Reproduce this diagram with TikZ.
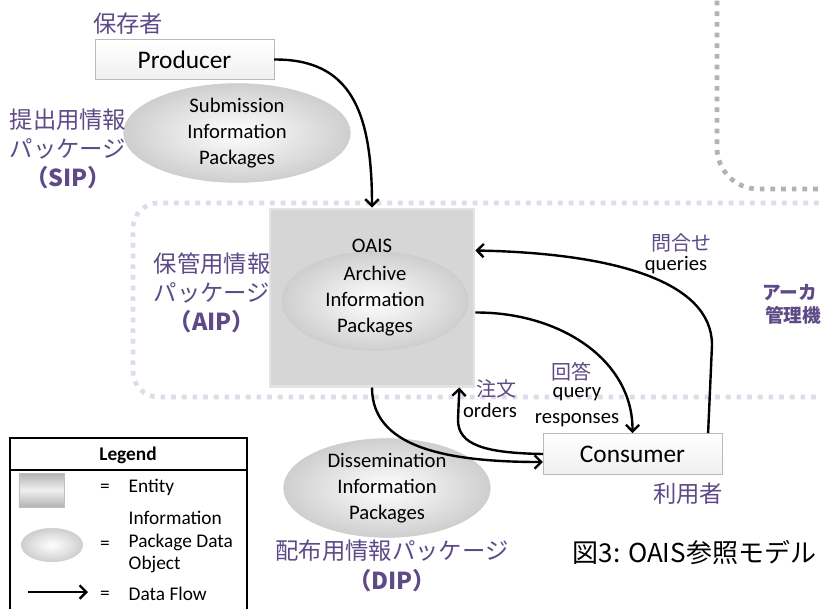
\documentclass[tikz,border=0pt]{standalone}
\usepackage{fontspec}
\setmainfont{Carlito}
\newfontfamily\jpfont{Noto Sans CJK JP}
\usetikzlibrary{arrows.meta, shapes.geometric, calc}
\definecolor{oaispurple}{HTML}{5E4A86}
\definecolor{oaislavender}{HTML}{DFDBEA}
\definecolor{oaisgray}{HTML}{B2B2B2}

\begin{document}
\begin{tikzpicture}[
    x=0.75pt, y=-0.75pt,
    entity/.style={draw=gray!55, top color=white, bottom color=gray!12, minimum width=#1, minimum height=30pt, inner sep=0pt, font=\fontsize{19}{22}\selectfont},
    package/.style={ellipse, draw=gray!40, inner color=white, outer color=gray!38, align=center, inner sep=0pt, font=\fontsize{15.5}{19.5}\selectfont},
    jplabel/.style={text=oaispurple, align=center, font=\jpfont\fontsize{17.5}{22}\selectfont},
    jpsmall/.style={text=oaispurple, font=\jpfont\fontsize{15}{18}\selectfont},
    flowlabel/.style={align=center, font=\fontsize{15.5}{19}\selectfont},
    legendtext/.style={align=left, font=\fontsize{14.5}{17}\selectfont},
    flow/.style={-{Straight Barb[length=5pt,width=10pt]}, line width=1.8pt},
    dotrule/.style={line width=3.5pt, dash pattern=on 3.5pt off 4.5pt}
  ]
  \fill[white] (0,0) rectangle (821,608);
  \useasboundingbox (0,0) rectangle (821,608);
  \clip (0,0) rectangle (821,608);

  % archive boundaries
  \draw[dotrule, oaisgray, rounded corners=31pt] (717,-10) -- (717,189) -- (840,189);
  \draw[dotrule, oaislavender, rounded corners=19pt] (840,203) -- (133,203) -- (133,397) -- (840,397);

  % producer side
  \node[entity=134pt] (producer) at (184.5,59.5) {Producer};
  \node[jplabel] (producerjp) at (128,24) {保存者};
  \node[package, minimum width=170pt, minimum height=58.5pt] (sip) at (237,133) {Submission\\Information\\Packages};
  \node[jplabel] (sipjp) at (68,149) {提出用情報\\パッケージ\\{\bfseries （SIP）}};

  % archive
  \node[draw=gray!22, line width=2pt, fill=gray!32, minimum width=153pt, minimum height=133pt] (aip) at (372,297.5) {};
  \node[package, minimum width=139.5pt, minimum height=61.5pt] (aipdata) at (375,301) {Archive\\Information\\Packages};
  \node[flowlabel] (oais) at (372,246) {OAIS};
  \node[jplabel] (aipjp) at (212,293) {保管用情報\\パッケージ\\{\bfseries （AIP）}};
  \node[text=oaispurple, font=\jpfont\bfseries\fontsize{14}{17}\selectfont, anchor=west, inner sep=0pt] (archivejp) at (762,293) {アーカ};
  \node[text=oaispurple, font=\jpfont\bfseries\fontsize{14}{17}\selectfont, anchor=west, inner sep=0pt] (managejp) at (765,315) {管理機};

  % consumer side
  \node[entity=134pt, minimum height=31pt] (consumer) at (632.5,454) {Consumer};
  \node[jplabel] (consumerjp) at (688,494) {利用者};
  \node[package, minimum width=155pt, minimum height=67.5pt] (dip) at (387,488) {Dissemination\\Information\\Packages};
  \node[jplabel] (dipjp) at (392,566) {配布用情報パッケージ\\{\bfseries （DIP）}};

  % flow labels
  \node[jpsmall] (queriesjp) at (681,243) {問合せ};
  \node[flowlabel] (queries) at (676,265) {queries};
  \node[jpsmall] (responsesjp) at (571,372) {回答};
  \node[flowlabel] (responses) at (577,407) {query\\responses};
  \node[jpsmall] (ordersjp) at (496,389) {注文};
  \node[flowlabel] (orders) at (490,410) {orders};

  % data flows
  \draw[flow] (producer.east) .. controls (350,59) and (372,110) .. (aip.north);
  \draw[flow] ($(consumer.north east)+(-14,0)$) -- (712,345) .. controls (712,280) and (610,253) .. ($(aip.north east)+(0,43)$);
  \draw[flow] ($(aip.east)+(0,15)$) .. controls (560,312) and (633,360) .. (consumer.north);
  \draw[flow] (consumer.west) .. controls (485,453) and (458,445) .. (458,420) -- ($(aip.south east)+(-16,0)$);
  \draw[flow] (aip.south) .. controls (372,445) and (440,462) .. ($(consumer.west)+(0,8)$);

  \node[font=\jpfont\fontsize{19.5}{22}\selectfont, anchor=west] (caption) at (568,553) {図3: OAIS参照モデル};

  % legend
  \draw[line width=0.8pt] (10,615) |- (247,438) -- (247,615);
  \draw[line width=0.8pt] (10,470) -- (247,470);
  \node[legendtext, font=\bfseries\fontsize{14.5}{17}\selectfont] (legtitle) at (128,455) {Legend};
  \node[draw=gray!50, top color=gray!60, bottom color=gray!60, middle color=gray!12, minimum width=34pt, minimum height=25.5pt] (legentity) at (41.5,490) {};
  \node[legendtext] (legeq1) at (105,488) {=};
  \node[legendtext, anchor=west] (legentitytext) at (124,487) {Entity};
  \node[package, minimum width=46pt, minimum height=25pt] (legpackage) at (52,545) {};
  \node[legendtext] (legeq2) at (105,545) {=};
  \node[legendtext, anchor=west] (legpackagetext) at (124,542) {Information\\Package Data\\Object};
  \coordinate (legflowa) at (28,592);
  \coordinate (legflowb) at (88,592);
  \draw[flow] (legflowa) -- (legflowb);
  \node[legendtext] (legeq3) at (105,595) {=};
  \node[legendtext, anchor=west] (legflowtext) at (124,594) {Data Flow};
\end{tikzpicture}
\end{document}
